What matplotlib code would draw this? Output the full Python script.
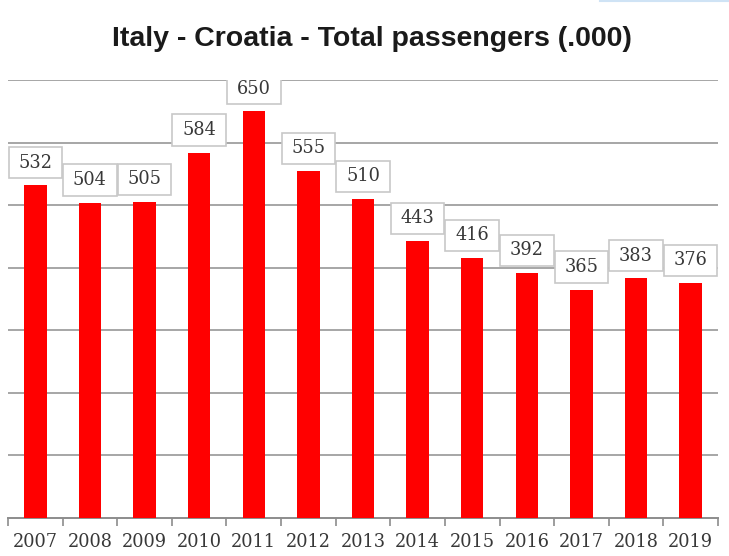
import matplotlib
matplotlib.use("Agg")
import matplotlib.pyplot as plt
from matplotlib.patches import Rectangle
from matplotlib.lines import Line2D

years = ["2007", "2008", "2009", "2010", "2011", "2012", "2013",
         "2014", "2015", "2016", "2017", "2018", "2019"]
passengers = [532, 504, 505, 584, 650, 555, 510, 443, 416, 392, 365, 383, 376]

title = "Italy - Croatia - Total passengers (.000)"

fig = plt.figure(figsize=(7.29, 5.56), dpi=100)
ax = fig.add_axes([8 / 729, 38 / 556, 710 / 729, 438 / 556])

n = len(years)
xs = list(range(n))
ax.bar(xs, passengers, width=0.41, color="#ff0000", zorder=3)

ax.set_xlim(-0.5, n - 0.5)
ax.set_ylim(0, 700)

# horizontal gridlines every 100
for y in range(100, 701, 100):
    ax.axhline(y, color="#a6a6a6", lw=1.4, zorder=1)

# value labels in white boxes above each bar
gap = 11
box_h = 50
for x, v in zip(xs, passengers):
    ax.add_patch(Rectangle((x - 0.49, v + gap), 0.98, box_h,
                           facecolor="white", edgecolor="#c8c8c8",
                           lw=1.2, zorder=4))
    ax.text(x, v + gap + box_h / 2, str(v), ha="center", va="center",
            fontsize=12.8, family="DejaVu Serif", color="#383838", zorder=5)

# category axis with boundary ticks
for side in ["left", "right", "top"]:
    ax.spines[side].set_visible(False)
ax.spines["bottom"].set_color("#8c8c8c")
ax.spines["bottom"].set_linewidth(1.4)
ax.set_yticks([])
ax.set_xticks([i - 0.5 for i in range(n + 1)])
ax.set_xticklabels([])
ax.set_xticks(xs, minor=True)
ax.set_xticklabels(years, minor=True, family="DejaVu Serif",
                   fontsize=12.8, color="#383838")
ax.tick_params(axis="x", which="major", length=6, width=1.2, color="#8c8c8c")
ax.tick_params(axis="x", which="minor", length=0, pad=11)

fig.text(372 / 729, 1 - 46 / 556, title, ha="center", va="baseline",
         fontsize=20.5, fontweight="bold", family="Liberation Sans",
         color="#1a1a1a")

fig.add_artist(Line2D([600 / 729, 1.0], [0.999, 0.999],
                      color="#cfe3f5", lw=1.5, transform=fig.transFigure))

fig.savefig("out.png", dpi=100)
